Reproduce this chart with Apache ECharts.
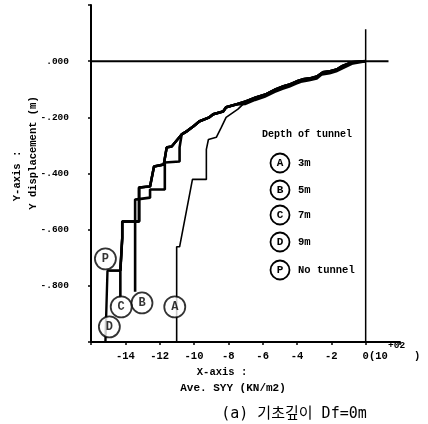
<!DOCTYPE html>
<html>
<head>
<meta charset="utf-8">
<script src="https://cdn.jsdelivr.net/npm/echarts@6/dist/echarts.min.js"></script>
<style>
html, body { margin: 0; padding: 0; background: #fff; }
#chart { width: 428px; height: 424px; }
</style>
</head>
<body>
<div id="chart"></div>
<script>
// tick labels
const xTickValues = [-14, -12, -10, -8, -6, -4, -2, 0]
const xTickLabels = ['-14', '-12', '-10', '-8', '-6', '-4', '-2', '0']
const yTickValues = [0, -0.2, -0.4, -0.6, -0.8]
const yTickLabels = ['.000', '-.200', '-.400', '-.600', '-.800']

// common upper part of all curves (x: SYY x10^2, y: displacement m)
const sharedPath = [[0, 0], [-0.81, -0.004], [-1.38, -0.018], [-1.67, -0.029], [-2.07, -0.036], [-2.48, -0.039],
    [-2.82, -0.054], [-3.23, -0.061], [-3.63, -0.064], [-3.98, -0.071], [-4.38, -0.082], [-4.78, -0.089],
    [-5.24, -0.1], [-5.82, -0.118], [-6.40, -0.129], [-6.97, -0.143]]
// lower edge of the same bundle (curve B runs a little below the others)
const sharedPathLow = [[0, 0], [-0.75, -0.008], [-1.3, -0.024], [-1.72, -0.036], [-2.1, -0.043], [-2.55, -0.047],
    [-2.85, -0.062], [-3.3, -0.068], [-3.7, -0.072], [-4.05, -0.08], [-4.45, -0.09], [-4.85, -0.098],
    [-5.3, -0.109], [-5.9, -0.127], [-6.45, -0.138], [-7.0, -0.152]]
const mainPath = [[-7.55, -0.154], [-8.13, -0.164], [-8.30, -0.179], [-8.88, -0.189], [-9.11, -0.2],
    [-9.68, -0.214], [-10.03, -0.232], [-10.43, -0.25], [-10.72, -0.261]]
const deepPath = [[-11.30, -0.304], [-11.59, -0.307], [-11.76, -0.368], [-12.33, -0.375], [-12.56, -0.446],
    [-13.2, -0.45], [-13.2, -0.571], [-14.18, -0.571], [-14.18, -0.629], [-14.29, -0.629], [-14.29, -0.746]]
// branches
const tailA = [[-7.44, -0.171], [-8.13, -0.2], [-8.41, -0.236], [-8.70, -0.271], [-9.16, -0.279], [-9.28, -0.314],
    [-9.28, -0.421], [-10.09, -0.421], [-10.84, -0.661], [-11.01, -0.661], [-11.01, -1.0]]
const tailB = [[-10.84, -0.307], [-10.84, -0.357], [-11.70, -0.361], [-11.70, -0.457], [-12.56, -0.457],
    [-12.56, -0.486], [-13.43, -0.493], [-13.43, -0.629], [-13.43, -0.821]]
const tailC = [[-14.29, -0.843]]
const tailD = [[-15.04, -0.746], [-15.16, -1.0]]
const tailP = [[-14.93, -0.746]]

// reference lines
const zeroLineH = [[-16, 0], [1.33, 0]]
const zeroLineV = [[0, 0.114], [0, -1.0]]

// circled tags on the curves
const tagNames = ['A', 'B', 'C', 'D', 'P']
const tagPoints = [[-11.12, -0.875], [-13.03, -0.861], [-14.24, -0.875], [-14.93, -0.946], [-15.16, -0.704]]

// legend
const legendKeys = ['A', 'B', 'C', 'D', 'P']
const legendTexts = ['3m', '5m', '7m', '9m', 'No tunnel']

const curveA = sharedPath.concat(tailA)
const curveB = sharedPathLow.concat(mainPath, tailB)
const curveC = sharedPath.concat(mainPath, deepPath, tailC)
const curveD = sharedPath.concat(mainPath, deepPath, tailD)
const curveP = sharedPath.concat(mainPath, deepPath, tailP)

const mono = '"Liberation Mono", "DejaVu Sans Mono", monospace'
const lineSeries = (name, data, w) => ({
    name: name, type: 'line', data: data, showSymbol: false, silent: true,
    lineStyle: { color: '#000', width: w }, z: 3
})

const legendGraphics = []
legendGraphics.push({
    type: 'text', left: 262, top: 129,
    style: { text: 'Depth of tunnel', font: 'bold 10px ' + mono, fill: '#000' }
})
const legendY = [163, 190, 215, 242, 270]
legendKeys.forEach((k, i) => {
    legendGraphics.push({
        type: 'circle', shape: { cx: 280, cy: legendY[i], r: 9.5 },
        style: { fill: '#fff', stroke: '#000', lineWidth: 1.8 }
    })
    legendGraphics.push({
        type: 'text', x: 280, y: legendY[i],
        style: { text: k, font: 'bold 11px ' + mono, fill: '#000', align: 'center', verticalAlign: 'middle' }
    })
    legendGraphics.push({
        type: 'text', x: 298, y: legendY[i],
        style: { text: legendTexts[i], font: 'bold 10.5px ' + mono, fill: '#000', verticalAlign: 'middle' }
    })
})

const myChart = echarts.init(document.getElementById('chart'))
myChart.setOption({
    animation: false,
    backgroundColor: '#fff',
    grid: { left: 91, right: 28, top: 5, bottom: 82, containLabel: false },
    xAxis: {
        type: 'value', min: -16, max: 2, interval: 2,
        axisLine: { show: true, onZero: false, lineStyle: { color: '#000', width: 2 } },
        axisTick: { show: true, length: 3, lineStyle: { color: '#000', width: 1.5 } },
        splitLine: { show: false },
        axisLabel: {
            margin: 9, color: '#000', fontFamily: mono, fontWeight: 'bold', fontSize: 10.5,
            formatter: v => {
                const i = xTickValues.findIndex(t => Math.abs(t - v) < 1e-6)
                return i < 0 ? '' : xTickLabels[i]
            }
        }
    },
    yAxis: {
        type: 'value', min: -1.0, max: 0.2, interval: 0.2,
        axisLine: { show: true, onZero: false, lineStyle: { color: '#000', width: 2 } },
        axisTick: { show: true, length: 3, lineStyle: { color: '#000', width: 1.5 } },
        splitLine: { show: false },
        axisLabel: {
            margin: 22, color: '#000', fontFamily: mono, fontWeight: 'bold', fontSize: 9.5,
            formatter: v => {
                const i = yTickValues.findIndex(t => Math.abs(t - v) < 1e-6)
                return i < 0 ? '' : yTickLabels[i]
            }
        }
    },
    series: [
        lineSeries('zeroH', zeroLineH, 2),
        lineSeries('zeroV', zeroLineV, 1.5),
        lineSeries('A', curveA, 1.6),
        lineSeries('B', curveB, 2.6),
        lineSeries('C', curveC, 2.6),
        lineSeries('D', curveD, 2.4),
        lineSeries('P', curveP, 2.4),
        {
            name: 'tags', type: 'scatter', silent: true, z: 5,
            data: tagPoints.map((p, i) => ({ value: p, name: tagNames[i] })),
            symbol: 'circle', symbolSize: 21,
            itemStyle: { color: '#fff', borderColor: '#000', borderWidth: 1.8 },
            label: {
                show: true, position: 'inside', formatter: '{b}', color: '#000',
                fontFamily: mono, fontWeight: 'bold', fontSize: 12
            }
        }
    ],
    graphic: legendGraphics.concat([
        // exponent next to the 0 label
        { type: 'text', x: 369, y: 356, style: { text: '(10', font: 'bold 10.5px ' + mono, fill: '#000', verticalAlign: 'middle' } },
        { type: 'text', x: 388, y: 346, style: { text: '+02', font: 'bold 9.5px ' + mono, fill: '#000', verticalAlign: 'middle' } },
        { type: 'text', x: 414, y: 356, style: { text: ')', font: 'bold 10.5px ' + mono, fill: '#000', verticalAlign: 'middle' } },
        // axis titles
        { type: 'text', x: 222, y: 372, style: { text: 'X-axis :', font: 'bold 10.5px ' + mono, fill: '#000', align: 'center', verticalAlign: 'middle' } },
        { type: 'text', x: 233, y: 388, style: { text: 'Ave. SYY (KN/m2)', font: 'bold 11px ' + mono, fill: '#000', align: 'center', verticalAlign: 'middle' } },
        { type: 'text', x: 17, y: 176, rotation: Math.PI / 2, style: { text: 'Y-axis :', font: 'bold 10.5px ' + mono, fill: '#000', align: 'center', verticalAlign: 'middle' } },
        { type: 'text', x: 33, y: 153, rotation: Math.PI / 2, style: { text: 'Y displacement (m)', font: 'bold 10.5px ' + mono, fill: '#000', align: 'center', verticalAlign: 'middle' } },
        // caption
        { type: 'text', x: 294, y: 414, style: { text: '(a) 기초깊이 Df=0m', font: '15px "DejaVu Sans Mono", "Noto Sans CJK KR", monospace', fill: '#000', align: 'center', verticalAlign: 'middle' } }
    ])
})
</script>
</body>
</html>
